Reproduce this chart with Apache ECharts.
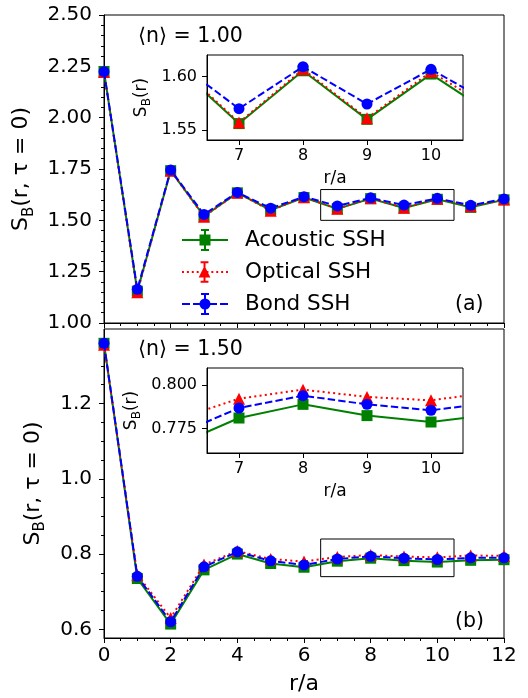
<!DOCTYPE html>
<html><head><meta charset="utf-8">
<script src="https://cdn.jsdelivr.net/npm/echarts@6/dist/echarts.min.js"></script>
<style>html,body{margin:0;padding:0;background:#fff}#c{width:528px;height:698px}</style>
</head><body><div id="c"></div>
<script>
// ---- data ----
const rVals = [0,1,2,3,4,5,6,7,8,9,10,11,12];
// panel (a) <n> = 1.00
const acousticA = [2.225, 1.155, 1.742, 1.520, 1.634, 1.550, 1.611, 1.556, 1.6056, 1.560, 1.6025, 1.563, 1.600];
const opticalA  = [2.222, 1.150, 1.742, 1.518, 1.634, 1.547, 1.613, 1.557, 1.607, 1.561, 1.6047, 1.568, 1.601];
const bondA     = [2.224, 1.164, 1.745, 1.529, 1.636, 1.559, 1.615, 1.570, 1.6094, 1.5744, 1.607, 1.573, 1.604];
// panel (b) <n> = 1.50
const acousticB = [1.360, 0.735, 0.614, 0.758, 0.800, 0.775, 0.765, 0.7811, 0.789, 0.7825, 0.7788, 0.7834, 0.785];
const opticalB  = [1.356, 0.745, 0.630, 0.772, 0.808, 0.787, 0.780, 0.7923, 0.7975, 0.7933, 0.7913, 0.7963, 0.795];
const bondB     = [1.360, 0.741, 0.620, 0.766, 0.806, 0.782, 0.771, 0.7869, 0.7940, 0.7890, 0.7856, 0.790, 0.790];
const seriesNames = ['Acoustic SSH', 'Optical SSH', 'Bond SSH'];
const panelLabels = ['⟨n⟩ = 1.00', '⟨n⟩ = 1.50'];
const panelTags = ['(a)', '(b)'];
// tick labels
const xTicks = [0,2,4,6,8,10,12];
const topYTicks = [1.00,1.25,1.50,1.75,2.00,2.25,2.50];
const botYTicks = [0.6,0.8,1.0,1.2];
const botYMinor = [0.65,0.70,0.75,0.85,0.90,0.95,1.05,1.10,1.15,1.25,1.30,1.35];
const insetXTicks = [7,8,9,10];
const insetTopYTicks = [1.55,1.60];
const insetBotYTicks = [0.775,0.800];
// zoom boxes (data ranges)
const boxA = [[6.5,1.50],[10.5,1.65]];
const boxB = [[6.5,0.74],[10.5,0.84]];

const FONT = 'DejaVu Sans';
const colors = ['#008000','#ff0000','#0000ff'];
const dashTypes = ['solid', [2,3.3], [7.4,3.2]];
const symbols = ['rect','triangle','circle'];

function pts(arr){ return rVals.map((x,i)=>[x, arr[i]]); }

// legend icons (line + errorbar + marker), drawn as filled paths
function lineRects(kind){
  if (kind === 0) return 'M0 10h46v2h-46z';
  let s = '';
  if (kind === 1) { for (let x=0; x<46; x+=5) s += 'M'+x+' 10h2v2h-2z'; return s; }
  [[0,8],[11,19],[27,35],[38,46]].forEach(([a,b])=>{ s += 'M'+a+' 10h'+(b-a)+'v2h-'+(b-a)+'z'; });
  return s;
}
const errPath = 'M22 0h2v22h-2zM19 0h8v2h-8zM19 20h8v2h-8z';
const markPaths = [
  'M17.5 5.5h11v11h-11z',
  'M23 4.5L29 16.5L17 16.5z',
  'M28.5 11A5.5 5.5 0 1 1 17.5 11A5.5 5.5 0 1 1 28.5 11z'
];
const icons = [0,1,2].map(k => 'path://' + lineRects(k) + errPath + markPaths[k]);

const chart = echarts.init(document.getElementById('c'), null, {renderer:'canvas'});

const axisLineS = {show:true, lineStyle:{color:'#000', width:1}};
const tickS = (len)=>({show:true, length:len, lineStyle:{color:'#000', width:1}});

function mkSeries(arrs, xi, yi, zBase){
  return arrs.map((a,k)=>({
    type:'line', name: seriesNames[k], xAxisIndex: xi, yAxisIndex: yi,
    data: pts(a), symbol: symbols[k], symbolSize: k===1 ? 12 : 11,
    showAllSymbol: true, clip: true,
    lineStyle:{color: colors[k], width: 2, type: dashTypes[k]},
    itemStyle:{color: colors[k], borderWidth: 0},
    emphasis:{disabled:true}, animation:false, z: zBase + k
  }));
}

const option = {
  animation: false,
  backgroundColor: '#fff',
  textStyle: {fontFamily: FONT},
  grid: [
    {left:104, top:15, width:400, height:308, show:true, borderColor:'#000', borderWidth:1, backgroundColor:'transparent', outerBoundsMode:'none'},
    {left:104, top:329, width:400, height:309, show:true, borderColor:'#000', borderWidth:1, backgroundColor:'transparent', outerBoundsMode:'none'},
    {left:207, top:55, width:256, height:85, show:true, borderColor:'#000', borderWidth:1, backgroundColor:'#fff', outerBoundsMode:'none', z:5},
    {left:207, top:368, width:256, height:85, show:true, borderColor:'#000', borderWidth:1, backgroundColor:'#fff', outerBoundsMode:'none', z:5}
  ],
  xAxis: [
    {type:'value', gridIndex:0, min:0, max:12, interval:2, axisLine:axisLineS, axisTick:tickS(5),
     minorTick:{show:true, splitNumber:4, length:3, lineStyle:{color:'#000'}}, axisLabel:{show:false}, splitLine:{show:false}},
    {type:'value', gridIndex:1, min:0, max:12, interval:2, axisLine:axisLineS, axisTick:tickS(5),
     minorTick:{show:true, splitNumber:4, length:3, lineStyle:{color:'#000'}},
     axisLabel:{show:true, margin:8, fontSize:20, fontFamily:FONT, color:'#000', customValues: xTicks},
     splitLine:{show:false}, name:'r/a', nameLocation:'middle', nameGap:35,
     nameTextStyle:{fontSize:22, fontFamily:FONT, color:'#000'}},
    {type:'value', gridIndex:2, min:6.5, max:10.5, axisLine:axisLineS, z:12,
     axisTick:{show:true, length:5, customValues: insetXTicks, lineStyle:{color:'#000'}},
     axisLabel:{show:true, margin:8, fontSize:16, fontFamily:FONT, color:'#000', customValues: insetXTicks},
     splitLine:{show:false}, name:'r/a', nameLocation:'middle', nameGap:30,
     nameTextStyle:{fontSize:17, fontFamily:FONT, color:'#000'}},
    {type:'value', gridIndex:3, min:6.5, max:10.5, axisLine:axisLineS, z:12,
     axisTick:{show:true, length:5, customValues: insetXTicks, lineStyle:{color:'#000'}},
     axisLabel:{show:true, margin:8, fontSize:16, fontFamily:FONT, color:'#000', customValues: insetXTicks},
     splitLine:{show:false}, name:'r/a', nameLocation:'middle', nameGap:30,
     nameTextStyle:{fontSize:17, fontFamily:FONT, color:'#000'}}
  ],
  yAxis: [
    {type:'value', gridIndex:0, position:'left', min:1.0, max:2.5, interval:0.25, axisLine:axisLineS, axisTick:tickS(5),
     minorTick:{show:true, splitNumber:5, length:3, lineStyle:{color:'#000'}},
     axisLabel:{show:true, margin:12, fontSize:20, fontFamily:FONT, color:'#000', formatter:v=>v.toFixed(2)},
     splitLine:{show:false},
     name:'{a|S}{b|B}{a|(r, τ = 0)}', nameLocation:'middle', nameGap:56, nameRotate:90,
     nameTextStyle:{fontFamily:FONT, color:'#000', rich:{
       a:{fontSize:22, fontFamily:FONT, color:'#000', lineHeight:30},
       b:{fontSize:15, fontFamily:FONT, color:'#000', lineHeight:16, verticalAlign:'bottom'}}}},
    {type:'value', gridIndex:1, position:'left', min:0.577, max:1.398, axisLine:axisLineS,
     axisTick:{show:true, length:5, customValues: botYTicks, lineStyle:{color:'#000'}},
     axisLabel:{show:true, margin:12, fontSize:20, fontFamily:FONT, color:'#000', customValues: botYTicks, formatter:v=>v.toFixed(1)},
     splitLine:{show:false},
     name:'{a|S}{b|B}{a|(r, τ = 0)}', nameLocation:'middle', nameGap:56, nameRotate:90,
     nameTextStyle:{fontFamily:FONT, color:'#000', rich:{
       a:{fontSize:22, fontFamily:FONT, color:'#000', lineHeight:30},
       b:{fontSize:15, fontFamily:FONT, color:'#000', lineHeight:16, verticalAlign:'bottom'}}}},
    {type:'value', gridIndex:1, position:'left', min:0.577, max:1.398, axisLine:{show:false},
     axisTick:{show:true, length:3, customValues: botYMinor, lineStyle:{color:'#000'}},
     axisLabel:{show:false}, splitLine:{show:false}},
    {type:'value', gridIndex:2, position:'left', min:1.5406, max:1.6204, axisLine:axisLineS, z:12,
     axisTick:{show:true, length:5, customValues: insetTopYTicks, lineStyle:{color:'#000'}},
     axisLabel:{show:true, margin:10, fontSize:16, fontFamily:FONT, color:'#000', customValues: insetTopYTicks, formatter:v=>v.toFixed(2)},
     splitLine:{show:false},
     name:'{a|S}{b|B}{a|(r)}', nameLocation:'middle', nameGap:54, nameRotate:90,
     nameTextStyle:{fontFamily:FONT, color:'#000', rich:{
       a:{fontSize:17, fontFamily:FONT, color:'#000', lineHeight:22},
       b:{fontSize:12, fontFamily:FONT, color:'#000', lineHeight:12, verticalAlign:'bottom'}}}},
    {type:'value', gridIndex:3, position:'left', min:0.7609, max:0.8100, axisLine:axisLineS, z:12,
     axisTick:{show:true, length:5, customValues: insetBotYTicks, lineStyle:{color:'#000'}},
     axisLabel:{show:true, margin:10, fontSize:16, fontFamily:FONT, color:'#000', customValues: insetBotYTicks, formatter:v=>v.toFixed(3)},
     splitLine:{show:false},
     name:'{a|S}{b|B}{a|(r)}', nameLocation:'middle', nameGap:64, nameRotate:90,
     nameTextStyle:{fontFamily:FONT, color:'#000', rich:{
       a:{fontSize:17, fontFamily:FONT, color:'#000', lineHeight:22},
       b:{fontSize:12, fontFamily:FONT, color:'#000', lineHeight:12, verticalAlign:'bottom'}}}}
  ],
  legend: {
    show:true, orient:'vertical', left:182, top:229, padding:0, itemGap:10,
    itemWidth:46, itemHeight:22, selectedMode:false,
    itemStyle:{borderWidth:0},
    textStyle:{fontSize:21.5, fontFamily:FONT, color:'#000', padding:[0,0,0,12]},
    data: seriesNames.map((n,k)=>({name:n, icon: icons[k]}))
  },
  graphic: [
    {type:'text', x:138, y:37, style:{text:panelLabels[0], fontSize:20.5, fontFamily:FONT, fill:'#000', verticalAlign:'middle'}},
    {type:'text', x:138, y:350, style:{text:panelLabels[1], fontSize:20.5, fontFamily:FONT, fill:'#000', verticalAlign:'middle'}},
    {type:'text', x:455, y:305, style:{text:panelTags[0], fontSize:20.5, fontFamily:FONT, fill:'#000', verticalAlign:'middle'}},
    {type:'text', x:455, y:622, style:{text:panelTags[1], fontSize:20.5, fontFamily:FONT, fill:'#000', verticalAlign:'middle'}}
  ],
  series: [].concat(
    mkSeries([acousticA, opticalA, bondA], 0, 0, 2),
    mkSeries([acousticB, opticalB, bondB], 1, 1, 2),
    mkSeries([acousticA, opticalA, bondA], 2, 3, 10),
    mkSeries([acousticB, opticalB, bondB], 3, 4, 10),
    [
      {type:'line', xAxisIndex:0, yAxisIndex:0, data:[], silent:true, symbol:'none',
       markArea:{silent:true, itemStyle:{color:'transparent', borderColor:'#000', borderWidth:1}, data:[[{coord:boxA[0]},{coord:boxA[1]}]]}},
      {type:'line', xAxisIndex:1, yAxisIndex:1, data:[], silent:true, symbol:'none',
       markArea:{silent:true, itemStyle:{color:'transparent', borderColor:'#000', borderWidth:1}, data:[[{coord:boxB[0]},{coord:boxB[1]}]]}}
    ]
  )
};
chart.setOption(option);
</script></body></html>
